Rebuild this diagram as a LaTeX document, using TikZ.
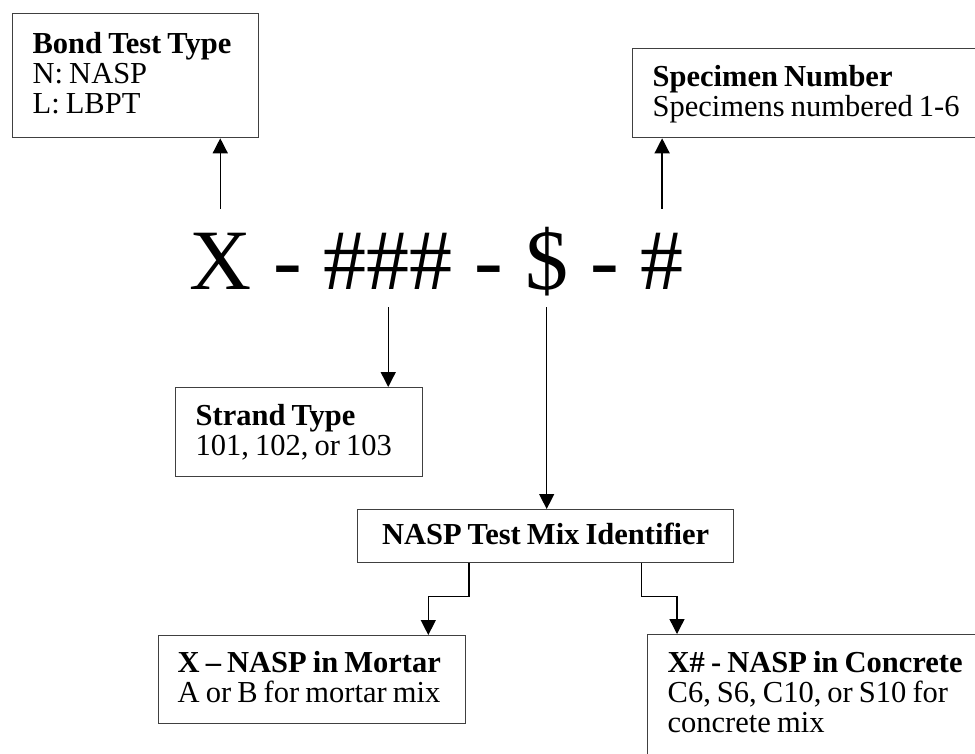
\documentclass[tikz,border=0pt]{standalone}
\usepackage{fontspec}
\setmainfont{Liberation Serif}[WordSpace=0.8]
\usetikzlibrary{arrows.meta,positioning}
\definecolor{myframe}{RGB}{64,64,64}
\newcommand{\boxfont}{\fontsize{30.5}{30}\selectfont}
\newcommand{\boxstrut}{\rule[-7pt]{0pt}{30pt}}

\begin{document}
\begin{tikzpicture}[
  x=1pt, y=-1pt,
  mybox/.style={
    draw=myframe,
    line width=1.3pt,
    anchor=north west,
    inner xsep=20pt,
    inner ysep=0pt,
    align=flush left,
    font=\boxfont
    },
  mycode/.style={
    inner sep=0pt,
    text height=80pt,
    text depth=18pt,
    font=\fontsize{86}{86}\selectfont
  },
  myarrow/.style={
    line width=1.4pt,
    -{Triangle[width=15pt,length=15pt]}
  }
]
\useasboundingbox (0,0) rectangle (975,753);
\clip (0,0) rectangle (975,753);

% the specimen code
\node[mycode, anchor=base west] (partX) at (189,289) {X};
\node[mycode, base right=21.5pt of partX] (dashA) {-};
\node[mycode, base right=21.5pt of dashA] (partStrand) {\#\#\#};
\node[mycode, base right=21.5pt of partStrand] (dashB) {-};
\node[mycode, base right=21.5pt of dashB] (partMix) {\$};
\node[mycode, base right=21.5pt of partMix] (dashC) {-};
\node[mycode, base right=21.5pt of dashC] (partSpec) {\#};

% the boxes
\node[mybox, text width=206pt, minimum height=124pt] (bond) at (12,13)
  {\boxstrut\textbf{Bond Test Type}\\ \boxstrut N: NASP\\ \boxstrut L: LBPT};
\node[mybox, text width=320pt, minimum height=89pt] (specimen) at (632,48)
  {\boxstrut\textbf{Specimen Number}\\ \boxstrut Specimens numbered 1-6};
\node[mybox, text width=207pt, minimum height=89pt] (strand) at (175,387)
  {\boxstrut\textbf{Strand Type}\\ \boxstrut 101, 102, or 103};
\node[mybox, text width=336pt, minimum height=53pt, align=flush center] (nasp) at (357,509)
  {\boxstrut\textbf{NASP Test Mix Identifier}};
\node[mybox, inner xsep=19pt, text width=269pt, minimum height=88pt] (mortar) at (158,635)
  {\boxstrut\textbf{X -- NASP in Mortar}\\ \boxstrut A or B for mortar mix};
\node[mybox, text width=305pt, minimum height=120pt] (concrete) at (647,634)
  {\boxstrut\textbf{X\# - NASP in Concrete}\\ \boxstrut C6, S6, C10, or S10 for\\ \boxstrut concrete mix};

% connectors
\draw[myarrow] (partX.north) -- (partX.north |- bond.south);
\draw[myarrow] (partSpec.north) -- (partSpec.north |- specimen.south);
\draw[myarrow] (partStrand.south) -- (partStrand.south |- strand.north);
\draw[myarrow] (partMix.south) -- (partMix.south |- nasp.north);
\draw[myarrow] ([xshift=112pt]nasp.south west) -- ++(0,33) -| ([xshift=-38pt]mortar.north east);
\draw[myarrow] ([xshift=-93pt]nasp.south east) -- ++(0,33) -| ([xshift=30pt]concrete.north west);

\end{tikzpicture}
\end{document}
